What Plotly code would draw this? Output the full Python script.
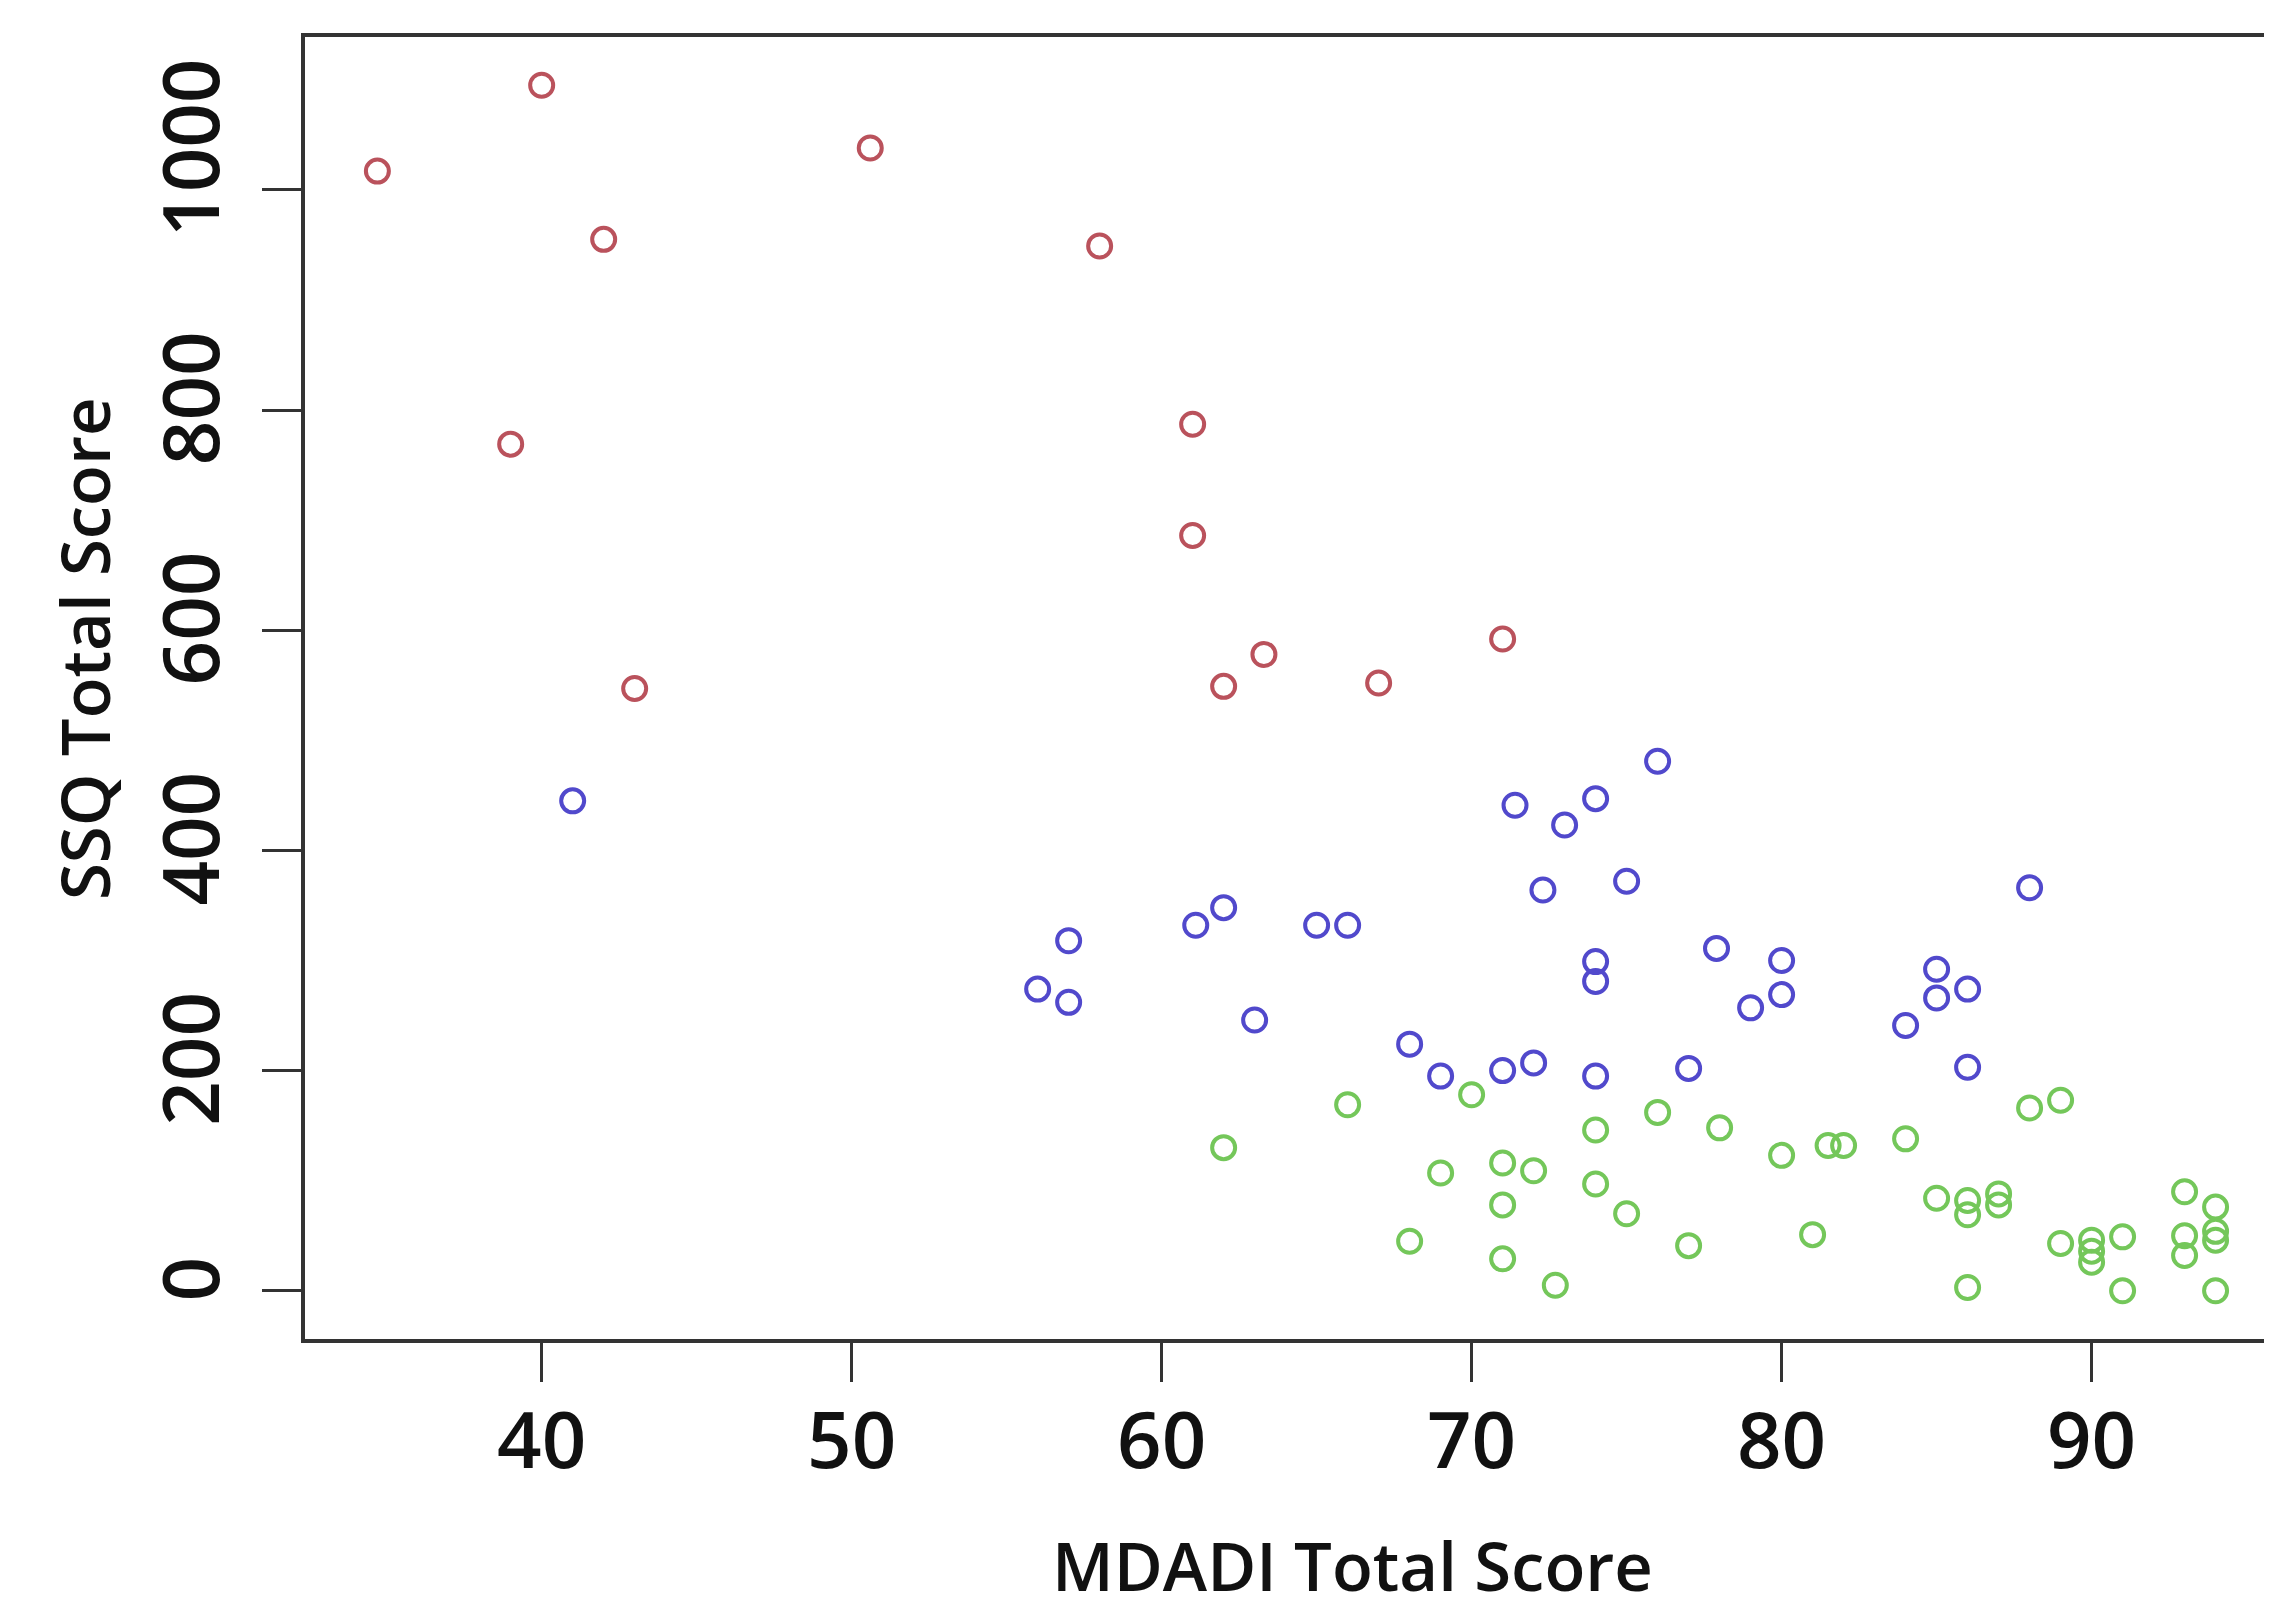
import plotly.graph_objects as go

# ---- data ----
red_x = [34.7, 40, 42, 39, 43, 50.6, 58, 61, 61, 62, 63.3, 67, 71]
red_y = [1017, 1095, 955, 769, 547, 1038, 949, 787, 686, 549, 578, 552, 592]

blue_x = [41, 56, 57, 57, 61.1, 62, 63, 65, 66, 68, 69, 71, 72, 71.4, 73, 74, 76,
          72.3, 75, 74, 74, 74, 77.9, 77, 80, 80, 79, 84, 85, 85, 86, 86, 88]
blue_y = [445, 274, 318, 262, 332, 348, 246, 332, 332, 224, 195, 200, 207, 441, 423, 447, 481,
          364, 372, 299, 281, 195, 311, 202, 300, 269, 257, 241, 292, 266, 274, 203, 366]

green_x = [62, 66, 70, 68, 69, 71, 72, 71, 71, 72.7, 74, 74, 75, 76, 77, 78, 80, 81,
           81.5, 82, 84, 85, 86, 86, 87, 87, 86, 88, 89, 89, 90, 90, 90, 91, 91,
           93, 93, 93, 94, 94, 94, 94]
green_y = [130, 169, 178, 45, 107, 116, 109, 78, 29, 5, 146, 97, 70, 162, 41, 148, 123, 51,
           132, 132, 138, 84, 82, 69, 88, 78, 3, 166, 173, 43, 46, 36, 26, 49, 0,
           90, 50, 32, 76, 54, 46, 0]

x_ticks = [40, 50, 60, 70, 80, 90]
y_ticks = [0, 200, 400, 600, 800, 1000]
y_tick_text = ["0", "200", "400", "600", "800", "\u00a0\u00a0\u00a01000"]
x_title = "MDADI Total Score"
y_title = "SSQ Total Score"

FONT = "Open Sans, DejaVu Sans, sans-serif"

# page body has an 8px default margin: figure is offset by (8, 8) in the window
W, H = 2264, 1605
L, T, B = 297, 29, 274   # plot area: x 305..2272, y 37..1339 on screen
PW, PH = W - L, H - T - B

fig = go.Figure()
for xs, ys, col in [(red_x, red_y, "#BA525C"),
                    (blue_x, blue_y, "#5149CC"),
                    (green_x, green_y, "#74C75A")]:
    fig.add_trace(go.Scatter(
        x=xs, y=ys, mode="markers",
        marker=dict(symbol="circle-open", size=23, color=col, line=dict(width=4, color=col)),
        showlegend=False, hoverinfo="skip"))

axis_common = dict(
    showgrid=False, zeroline=False, showline=True, linecolor="#333333", linewidth=4,
    ticks="outside", ticklen=39, tickwidth=3, tickcolor="#333333", automargin=False,
    tickfont=dict(family=FONT, size=78, color="#111111", weight=600),
)

fig.update_xaxes(range=[32.365, 95.82], tickvals=x_ticks, mirror=True,
                 ticklabelstandoff=-8, **axis_common)
fig.update_yaxes(range=[-43.8, 1138.8], tickvals=y_ticks, ticktext=y_tick_text,
                 tickangle=-90, mirror=False, ticklabelstandoff=12, **axis_common)

fig.add_annotation(text=x_title, xref="paper", yref="paper", x=(1352 - 305) / PW,
                   y=(1339 - 1565) / PH,
                   xanchor="center", yanchor="middle", showarrow=False,
                   font=dict(family=FONT, size=67, color="#111111", weight=600))
fig.add_annotation(text=y_title, xref="paper", yref="paper", x=(84 - 305) / PW,
                   y=(1339 - 649) / PH,
                   xanchor="center", yanchor="middle", showarrow=False, textangle=-90,
                   font=dict(family=FONT, size=67, color="#111111", weight=600))

fig.update_layout(
    width=W, height=H,
    margin=dict(l=L, r=0, t=T, b=B),
    paper_bgcolor="white", plot_bgcolor="white",
)

fig.write_html("out.html")
